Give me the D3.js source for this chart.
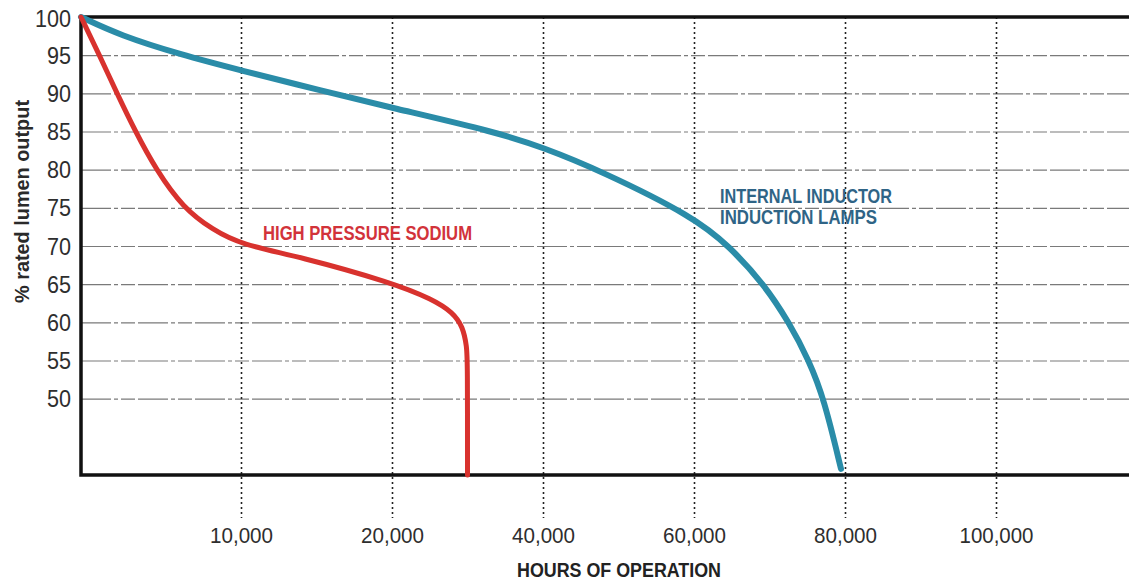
<!DOCTYPE html>
<html lang="en">

<head>
    <meta charset="UTF-8" />
    <title>Lumen maintenance</title>
    <script src="https://d3js.org/d3.v7.min.js"></script>
    <style>
        body {
            margin: 0;
            background: #fff;
        }

        .tick-label {
            font-family: "Liberation Sans", Arial, sans-serif;
            fill: #2e2e2e;
        }

        .gridlines .domain {
            stroke: none;
        }
    </style>
</head>

<body>
    <svg id="lumen" width="1129" height="580"></svg>
    <script>
        // high pressure sodium curve (hours, % rated lumen output)
        const hpsHours = [0, 1150, 2250, 3400, 4690, 6380, 8250, 10000, 13900, 20000, 25400, 28050, 29400, 29900, 30000, 30000];
        const hpsOutput = [100, 95, 90, 85, 80, 75, 72.1, 70.2, 68.6, 65.2, 63, 61.3, 59.4, 56.8, 55, 40];

        // internal inductor induction lamps
        const inductionHours = [0, 2440, 6190, 10000, 15230, 20000, 33900, 40000, 47550, 60000, 64640, 69270, 72580, 75230, 77220, 79470];
        const inductionOutput = [100, 97.6, 95.1, 93, 90.4, 88.1, 84.9, 82.9, 79.9, 73.8, 70, 65, 60, 55, 50, 40.8];

        // axis ticks
        const xTicks = [10000, 20000, 40000, 60000, 80000, 100000];
        const yTicks = [100, 95, 90, 85, 80, 75, 70, 65, 60, 55, 50];
        // the hour axis is not uniform: each break gets one grid step
        const xBreaks = [0, 10000, 20000, 40000, 60000, 80000, 100000, 120000];

        const svg = d3.select("svg#lumen");
        const svgWidth = +svg.attr("width");

        const plotLeft = 81;
        const plotTop = 17;
        const plotBottom = 475;
        const firstStep = 160;
        const gridStep = 151;

        const xScale = d3.scaleLinear()
            .domain(xBreaks)
            .range(xBreaks.map((d, i) => i === 0 ? plotLeft : plotLeft + firstStep + (i - 1) * gridStep));

        const yScale = d3.scaleLinear()
            .domain([40, 100])
            .range([plotBottom, plotTop]);

        const annotations = svg.append("g").attr("id", "annotations");
        const chartArea = svg.append("g").attr("id", "chart");

        // horizontal gridlines (scanned dash-dot look)
        annotations.append("g")
            .attr("class", "y gridlines")
            .attr("transform", `translate(${plotLeft},0)`)
            .call(d3.axisLeft(yScale).tickValues(yTicks.filter(d => d < 100)).tickFormat("").tickSize(-(svgWidth - plotLeft)))
            .selectAll(".tick line")
            .attr("stroke", "#7a7a7a")
            .attr("stroke-width", 1.2)
            .attr("stroke-dasharray", "30 3 4 3 14 3");

        // vertical dotted gridlines, running below the frame
        annotations.append("g")
            .attr("class", "x gridlines")
            .attr("transform", `translate(0,${plotTop})`)
            .call(d3.axisBottom(xScale).tickValues(xTicks).tickFormat("").tickSize(518 - plotTop))
            .selectAll(".tick line")
            .attr("stroke", "#222")
            .attr("stroke-width", 1.6)
            .attr("stroke-dasharray", "2 3");

        // frame: top, left, bottom (open on the right)
        annotations.append("path")
            .attr("d", `M${svgWidth},${plotTop} H${plotLeft} V${plotBottom} H${svgWidth}`)
            .attr("fill", "none")
            .attr("stroke", "#111")
            .attr("stroke-width", 3.5);

        // y tick labels
        const yAxis = annotations.append("g")
            .attr("class", "y axis")
            .attr("transform", `translate(${plotLeft},0)`)
            .call(d3.axisLeft(yScale).tickValues(yTicks).tickSize(0).tickPadding(10));
        yAxis.select(".domain").remove();
        yAxis.selectAll("text")
            .attr("class", "tick-label")
            .style("font-size", "23px")
            .attr("textLength", d => String(d).length * 12)
            .attr("lengthAdjust", "spacingAndGlyphs")
            .attr("dy", d => d === 100 ? "0.42em" : "0.35em");

        // x tick labels
        const xAxis = annotations.append("g")
            .attr("class", "x axis")
            .attr("transform", `translate(0,${plotBottom})`)
            .call(d3.axisBottom(xScale).tickValues(xTicks).tickSize(0).tickPadding(52).tickFormat(d3.format(",")));
        xAxis.select(".domain").remove();
        xAxis.selectAll("text")
            .attr("class", "tick-label")
            .style("font-size", "22px")
            .attr("textLength", d => String(d).length * 11 + 8)
            .attr("lengthAdjust", "spacingAndGlyphs");

        // axis titles
        annotations.append("text")
            .attr("x", 517)
            .attr("y", 577)
            .attr("textLength", 204)
            .attr("lengthAdjust", "spacingAndGlyphs")
            .style("font-family", "'Liberation Sans', sans-serif")
            .style("font-weight", "bold")
            .style("font-size", "21px")
            .attr("fill", "#222")
            .text("HOURS OF OPERATION");

        annotations.append("text")
            .attr("transform", "translate(29,303) rotate(-90)")
            .attr("textLength", 203)
            .attr("lengthAdjust", "spacingAndGlyphs")
            .style("font-family", "'Liberation Sans', sans-serif")
            .style("font-weight", "bold")
            .style("font-size", "20px")
            .attr("fill", "#2a2a2a")
            .text("% rated lumen output");

        // b-spline smoothing: the readings off a scan are a little noisy
        const lineGen = d3.line()
            .x(d => xScale(d[0]))
            .y(d => yScale(d[1]))
            .curve(d3.curveBasis);

        chartArea.append("path")
            .datum(d3.zip(inductionHours, inductionOutput))
            .attr("class", "line induction")
            .attr("fill", "none")
            .attr("stroke", "#2a8ca8")
            .attr("stroke-width", 6)
            .attr("stroke-linecap", "round")
            .attr("d", lineGen);

        chartArea.append("path")
            .datum(d3.zip(hpsHours, hpsOutput))
            .attr("class", "line hps")
            .attr("fill", "none")
            .attr("stroke", "#d8322e")
            .attr("stroke-width", 5)
            .attr("stroke-linecap", "round")
            .attr("d", lineGen);

        // series labels
        chartArea.append("text")
            .attr("x", 263)
            .attr("y", 240)
            .attr("textLength", 209)
            .attr("lengthAdjust", "spacingAndGlyphs")
            .style("font-family", "'Liberation Sans', sans-serif")
            .style("font-weight", "bold")
            .style("font-size", "21px")
            .attr("fill", "#d2333a")
            .text("HIGH PRESSURE SODIUM");

        const labelFont = (sel) => sel
            .attr("lengthAdjust", "spacingAndGlyphs")
            .style("font-family", "'Liberation Sans', sans-serif")
            .style("font-weight", "bold")
            .style("font-size", "19.5px")
            .attr("fill", "#2f6486");

        chartArea.append("text")
            .attr("x", 720)
            .attr("y", 203)
            .attr("textLength", 172)
            .call(labelFont)
            .text("INTERNAL INDUCTOR");

        chartArea.append("text")
            .attr("x", 720)
            .attr("y", 224)
            .attr("textLength", 157)
            .call(labelFont)
            .text("INDUCTION LAMPS");
    </script>
</body>

</html>
